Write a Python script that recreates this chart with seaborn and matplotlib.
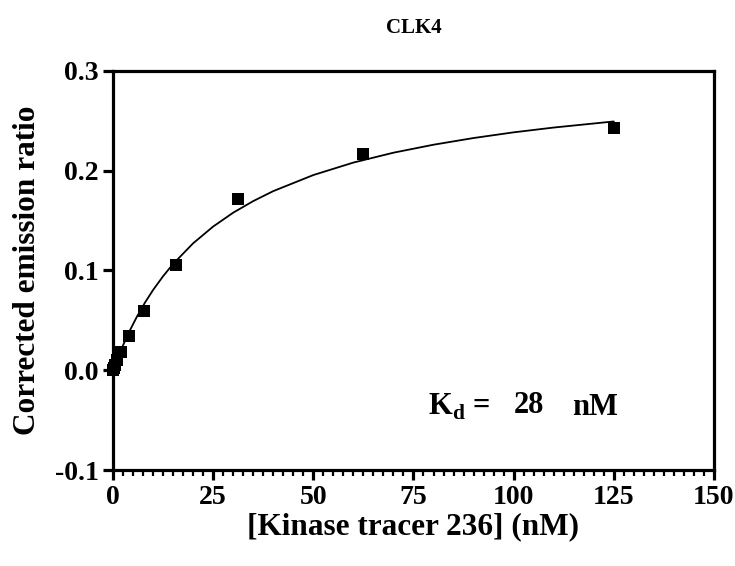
import numpy as np
import pandas as pd
import seaborn as sns
import matplotlib.pyplot as plt
from matplotlib.ticker import MultipleLocator

# tracer concentrations (nM) and corrected emission ratios
conc = [125.0, 62.5, 31.25, 15.63, 7.81, 3.91, 1.95, 0.98, 0.49, 0.24, 0.0]
ratio = [0.243, 0.217, 0.172, 0.105, 0.059, 0.034, 0.018, 0.010, 0.005, 0.002, 0.000]

# fitted binding curve
fit_x = [0, 1, 2, 4, 6, 8, 10, 12.5, 15, 20, 25, 30, 35, 40, 50, 60, 70, 80, 90, 100, 110, 125]
fit_y = [0.0, 0.0105, 0.0203, 0.0381, 0.0538, 0.0678, 0.0803, 0.0941, 0.1064, 0.1271,
         0.1439, 0.1578, 0.1694, 0.1794, 0.1955, 0.2080, 0.2179, 0.2259, 0.2326,
         0.2383, 0.2431, 0.2492]

title = "CLK4"
kd_value = "28"

pts = pd.DataFrame({"x": conc, "y": ratio})
fit = pd.DataFrame({"x": fit_x, "y": fit_y})

sns.set_style("ticks")
plt.rcParams["font.family"] = ["Liberation Serif", "DejaVu Serif"]
plt.rcParams["font.weight"] = "bold"
plt.rcParams["mathtext.fontset"] = "custom"
plt.rcParams["mathtext.rm"] = "Liberation Serif:bold"
plt.rcParams["mathtext.bf"] = "Liberation Serif:bold"
plt.rcParams["text.color"] = "black"
plt.rcParams["axes.labelcolor"] = "black"
plt.rcParams["xtick.color"] = "black"
plt.rcParams["ytick.color"] = "black"

fig = plt.figure(figsize=(7.35, 5.66), dpi=100)
ax = fig.add_axes([0.1537, 0.1696, 0.8177, 0.7054])

sns.lineplot(data=fit, x="x", y="y", color="black", linewidth=1.3, ax=ax)
sns.scatterplot(data=pts, x="x", y="y", marker="s", s=85, color="black",
                edgecolor="black", linewidth=0, ax=ax, zorder=3, clip_on=False)

ax.set_xlim(0, 150)
ax.set_ylim(-0.1, 0.3)
ax.xaxis.set_major_locator(MultipleLocator(25))
ax.xaxis.set_minor_locator(MultipleLocator(2.5))
ax.set_yticks([-0.1, 0.0, 0.1, 0.2, 0.3])
ax.set_yticklabels(["-0.1", "0.0", "0.1", "0.2", "0.3"])

for s in ax.spines.values():
    s.set_linewidth(2.3)
    s.set_color("black")
    s.set_visible(True)

ax.tick_params(axis="both", which="major", direction="out", length=7.5, width=2.3,
               labelsize=20, pad=3)
ax.tick_params(axis="x", which="minor", direction="out", length=4.5, width=1.6)
for lab in ax.get_xticklabels() + ax.get_yticklabels():
    lab.set_fontweight("bold")

ax.set_xlabel("[Kinase tracer 236] (nM)", fontsize=22.5, fontweight="bold", labelpad=2)
ax.set_ylabel("Corrected emission ratio", fontsize=22.5, fontweight="bold", labelpad=9)
ax.set_title(title, fontsize=15, fontweight="bold", pad=27)

ax.text(78.75, -0.045, r"K$_{\mathbf{d}}$ =", fontsize=22, fontweight="bold",
        ha="left", va="baseline")
ax.text(103.9, -0.043, kd_value, fontsize=22, fontweight="bold", ha="center", va="baseline")
ax.text(120.4, -0.045, "nM", fontsize=22, fontweight="bold", ha="center", va="baseline")

fig.savefig("out.png", dpi=100)
